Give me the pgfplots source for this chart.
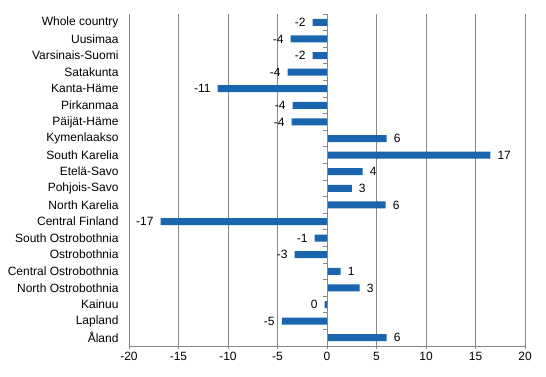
\documentclass[border=0pt]{standalone}
\usepackage{fontspec}
\setmainfont{Liberation Sans}
\usepackage{pgfplots}
\pgfplotsset{compat=1.18}
\usepackage{pgfplotstable}
\definecolor{barblue}{HTML}{1A66AE}
\definecolor{gridgray}{HTML}{878787}

\pgfplotstableread[col sep=comma]{
idx,val,lab
0,-1.44,-2
1,-3.67,-4
2,-1.44,-2
3,-3.97,-4
4,-11.04,-11
5,-3.47,-4
6,-3.57,-4
7,6.03,6
8,16.5,17
9,3.6,4
10,2.5,3
11,5.93,6
12,-16.8,-17
13,-1.24,-1
14,-3.27,-3
15,1.38,1
16,3.3,3
17,-0.23,0
18,-4.57,-5
19,6.03,6
}\datatable

\begin{document}
\begin{tikzpicture}
\begin{axis}[
  scale only axis,
  width=396bp, height=332bp,
  xmin=-20, xmax=20,
  ymin=-0.5, ymax=19.5,
  y dir=reverse,
  xtick={-20,-15,...,20},
  ytick={0,...,19},
  yticklabels={Whole country,Uusimaa,Varsinais-Suomi,Satakunta,Kanta-Häme,Pirkanmaa,Päijät-Häme,Kymenlaakso,South Karelia,Etelä-Savo,Pohjois-Savo,North Karelia,Central Finland,South Ostrobothnia,Ostrobothnia,Central Ostrobothnia,North Ostrobothnia,Kainuu,Lapland,Åland},
  axis x line*=bottom,
  axis y line*=left,
  axis line style={gridgray, line width=0.8bp},
  x axis line style={-},
  y axis line style={-},
  xmajorgrids,
  grid style={gridgray, line width=0.8bp},
  ytick style={draw=none},
  xtick style={gridgray, line width=0.8bp},
  tick align=outside,
  major tick length=3bp,
  /pgf/number format/assume math mode=true,
  tick label style={font=\fontsize{12bp}{14bp}\selectfont, text=black},
  yticklabel style={xshift=-4bp},
  xbar, bar width=7bp, bar shift=0pt,
  point meta=explicit symbolic,
  nodes near coords,
  every node near coord/.append style={font=\fontsize{12bp}{14bp}\selectfont, text=black, inner xsep=7bp},
]
\addplot[draw=none, fill=barblue, restrict x to domain=-100:-0.0001,
  every node near coord/.append style={anchor=east}]
  table[x=val, y=idx, meta=lab] {\datatable};
\addplot[draw=none, fill=barblue, restrict x to domain=0:100,
  every node near coord/.append style={anchor=west}]
  table[x=val, y=idx, meta=lab] {\datatable};
\draw[gridgray, line width=0.8bp] (axis cs:0,-0.5) -- (axis cs:0,19.5);
\pgfplotsinvokeforeach{0,...,20}{
  \draw[gridgray, line width=0.8bp] (axis cs:0,#1-0.5) -- ([xshift=-4bp]axis cs:0,#1-0.5);
}
\end{axis}
\path (current axis.south west) ++(-129bp,-30bp) coordinate (bl);
\path (current axis.north east) ++(21bp,14bp) coordinate (tr);
\useasboundingbox (bl) rectangle (tr);
\end{tikzpicture}
\end{document}
